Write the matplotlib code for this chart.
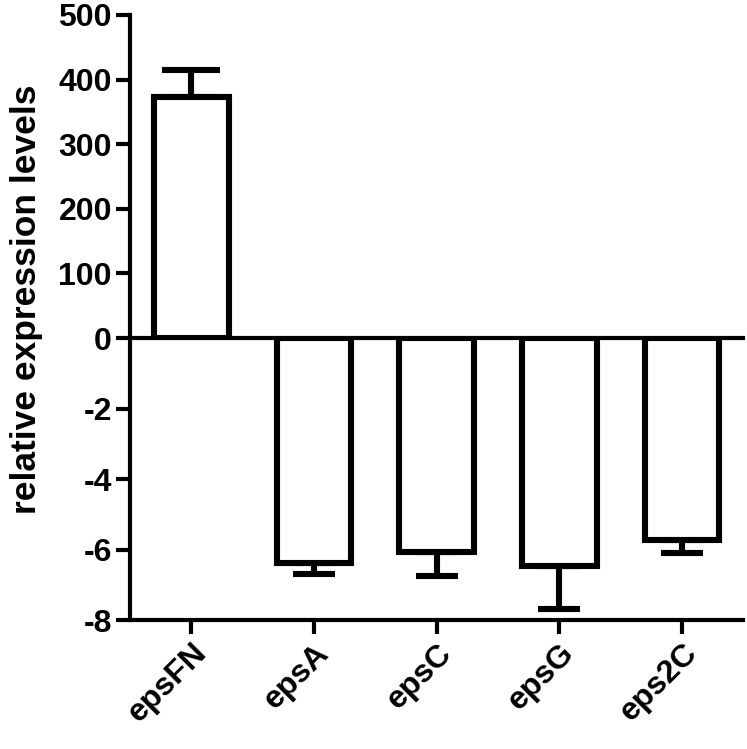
import matplotlib.pyplot as plt
import numpy as np

plt.rcParams['font.family'] = ['Liberation Sans', 'DejaVu Sans']
plt.rcParams['font.weight'] = 'bold'

genes = ['epsFN', 'epsA', 'epsC', 'epsG', 'eps2C']
values = [373, -6.38, -6.07, -6.47, -5.73]
errors = [42, 0.32, 0.68, 1.22, 0.37]
top_ticks = [100, 200, 300, 400, 500]
bottom_ticks = [-8, -6, -4, -2, 0]

x = np.arange(len(genes))
values = np.array(values)
errors = np.array(errors)
pos = values > 0
neg = values < 0

fig = plt.figure(figsize=(7.47, 7.49), dpi=100)
ax_top = fig.add_axes([0.174, 0.5487, 0.821, 0.4313])
ax_bot = fig.add_axes([0.174, 0.1722, 0.821, 0.3765])

lw = 4.4

# upper segment: positive values
ax_top.bar(x[pos], values[pos], width=0.61, color='white', edgecolor='black', linewidth=lw, zorder=3)
ax_top.errorbar(x[pos], values[pos], yerr=[np.zeros(pos.sum()), errors[pos]], fmt='none',
                ecolor='black', elinewidth=lw, capsize=21, capthick=lw, zorder=2)
ax_top.set_ylim(0, 500)
ax_top.set_xlim(-0.5, 4.5)
ax_top.set_yticks(top_ticks)
ax_top.set_xticks([])
for s in ['top', 'right', 'bottom']:
    ax_top.spines[s].set_visible(False)

# lower segment: negative values
ax_bot.bar(x[neg], values[neg], width=0.61, color='white', edgecolor='black', linewidth=lw, zorder=3)
ax_bot.errorbar(x[neg], values[neg], yerr=[errors[neg], np.zeros(neg.sum())], fmt='none',
                ecolor='black', elinewidth=lw, capsize=15, capthick=lw, zorder=2)
ax_bot.set_ylim(-8, 0)
ax_bot.set_xlim(-0.5, 4.5)
ax_bot.set_yticks(bottom_ticks)
ax_bot.set_yticklabels([str(t) for t in bottom_ticks])
ax_bot.set_xticks(x)
ax_bot.set_xticklabels(genes, rotation=45, ha='right', rotation_mode='anchor')
ax_bot.spines['right'].set_visible(False)

for ax in (ax_top, ax_bot):
    for s in ax.spines.values():
        s.set_linewidth(3)
    ax.tick_params(width=3, length=10, labelsize=23, pad=3)
    for lab in ax.get_yticklabels() + ax.get_xticklabels():
        lab.set_fontweight('bold')

fig.text(0.036, 0.6, 'relative expression levels', rotation=90, ha='center', va='center',
         fontsize=25.5, fontweight='bold')

plt.savefig('out.png', dpi=100)
